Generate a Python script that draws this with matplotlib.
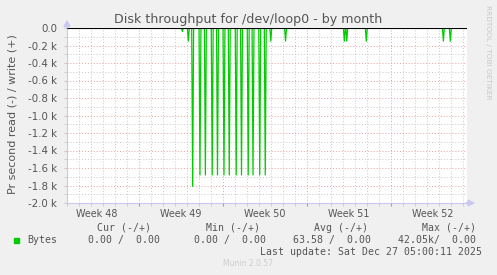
import matplotlib
matplotlib.use('Agg')
import matplotlib.pyplot as plt
from matplotlib.ticker import MultipleLocator, FixedLocator, NullFormatter

W, H = 497, 275

# days since Mon 24 Nov 2025 (start of week 48)
spike_day = [10.61, 11.11, 11.47, 12.08, 12.53, 13.10, 13.54, 14.08, 14.52,
             15.10, 15.54, 16.10, 16.50, 17.06, 17.52, 17.98, 19.21,
             24.11, 24.31, 25.94, 32.36, 32.94]
spike_read = [-40, -150, -1810, -1680, -1680, -1680, -1680, -1680, -1680,
              -1680, -1680, -1680, -1680, -1680, -1680, -150, -150,
              -150, -150, -150, -150, -150]

week_pos = [3.5, 10.5, 17.5, 24.5, 31.5]
week_labels = ["Week 48", "Week 49", "Week 50", "Week 51", "Week 52"]
yticks = [0, -200, -400, -600, -800, -1000, -1200, -1400, -1600, -1800, -2000]
ytick_labels = ["0.0", "-0.2 k", "-0.4 k", "-0.6 k", "-0.8 k", "-1.0 k",
                "-1.2 k", "-1.4 k", "-1.6 k", "-1.8 k", "-2.0 k"]

x_start, x_end = 1.0, 34.33
half_w = 0.08  # half width of one sample


def fx(px):
    return px / W


def fy(py):
    return 1 - py / H


# line through the samples: zero between spikes
xs, ys = [x_start], [0]
for t, v in zip(spike_day, spike_read):
    xs += [t - half_w, t, t + half_w]
    ys += [0, v, 0]
xs.append(x_end)
ys.append(0)

fig = plt.figure(figsize=(W / 100, H / 100), dpi=100)
fig.patch.set_facecolor("#f0f0f0")
ax = fig.add_axes([fx(67), fy(203), fx(400), 175 / H])
ax.set_facecolor("white")

ax.set_xlim(x_start, x_end)
ax.set_ylim(-2000, 0)

# grid
ax.xaxis.set_major_locator(FixedLocator([7, 14, 21, 28]))
ax.xaxis.set_minor_locator(MultipleLocator(1))
ax.yaxis.set_major_locator(FixedLocator(yticks))
ax.yaxis.set_minor_locator(MultipleLocator(100))
ax.grid(which="minor", color="#c8c8c8", linestyle=(0, (1, 2)), linewidth=0.7)
ax.grid(which="major", color="#e8a0a0", linestyle=(0, (1, 2)), linewidth=0.7)
ax.set_axisbelow(True)
ax.xaxis.set_major_formatter(NullFormatter())
ax.set_yticklabels(ytick_labels)
ax.tick_params(axis="y", which="both", length=2, color="#c8c8c8",
               labelsize=7.4, labelcolor="#555555", pad=5)
ax.tick_params(axis="x", which="minor", length=2, color="#c8c8c8")
ax.tick_params(axis="x", which="major", length=2, color="#e08080")

for s in ["top", "right"]:
    ax.spines[s].set_visible(False)
for s in ["left", "bottom"]:
    ax.spines[s].set_color("#c8c8f0")
    ax.spines[s].set_linewidth(0.8)

# week labels between week starts
for p, lab in zip(week_pos, week_labels):
    ax.text(p, -2000 - 2000 * 6 / 175, lab, ha="center", va="top",
            fontsize=6.9, color="#555555", clip_on=False)

ax.plot(xs, ys, color="#00cc00", linewidth=0.9, zorder=3)
ax.axhline(0, color="black", linewidth=0.8, zorder=4)

# axis arrows
fig.patches.append(matplotlib.patches.FancyArrow(
    fx(67), fy(28), 0, 7 / H, width=0.0008, head_width=0.012, head_length=0.02,
    color="#c8c8f0", transform=fig.transFigure, length_includes_head=True))
fig.patches.append(matplotlib.patches.FancyArrow(
    fx(466), fy(203), 8 / W, 0, width=0.0015, head_width=0.02, head_length=0.012,
    color="#c8c8f0", transform=fig.transFigure, length_includes_head=True))

# texts
fig.text(fx(248), fy(19), "Disk throughput for /dev/loop0 - by month",
         ha="center", va="center", fontsize=9.1, color="#555555")
fig.text(fx(13), fy(114), "Pr second read (-) / write (+)", rotation=90,
         ha="center", va="center", fontsize=8.0, color="#555555")
fig.text(fx(488), fy(5), "RRDTOOL / TOBI OETIKER", rotation=270,
         ha="center", va="top", fontsize=5.3, color="#c8c8c8")

mono = dict(family="DejaVu Sans Mono", fontsize=7.1, color="#555555", va="center")
fig.text(fx(151), fy(228), "Cur (-/+)", ha="right", **mono)
fig.text(fx(260), fy(228), "Min (-/+)", ha="right", **mono)
fig.text(fx(368), fy(228), "Avg (-/+)", ha="right", **mono)
fig.text(fx(476), fy(228), "Max (-/+)", ha="right", **mono)

fig.patches.append(matplotlib.patches.Rectangle(
    (fx(14), fy(242.5)), 5 / W, 5 / H, color="#00cc00", transform=fig.transFigure))
fig.text(fx(27), fy(240), "Bytes", ha="left", **mono)
fig.text(fx(160), fy(240), "0.00 /  0.00", ha="right", **mono)
fig.text(fx(266), fy(240), "0.00 /  0.00", ha="right", **mono)
fig.text(fx(371), fy(240), "63.58 /  0.00", ha="right", **mono)
fig.text(fx(476), fy(240), "42.05k/  0.00", ha="right", **mono)
fig.text(fx(482), fy(252), "Last update: Sat Dec 27 05:00:11 2025", ha="right", **mono)
fig.text(fx(248), fy(264), "Munin 2.0.57", ha="center", va="center",
         fontsize=5.5, color="#cccccc")

fig.savefig("out.png", dpi=100, facecolor=fig.get_facecolor())
